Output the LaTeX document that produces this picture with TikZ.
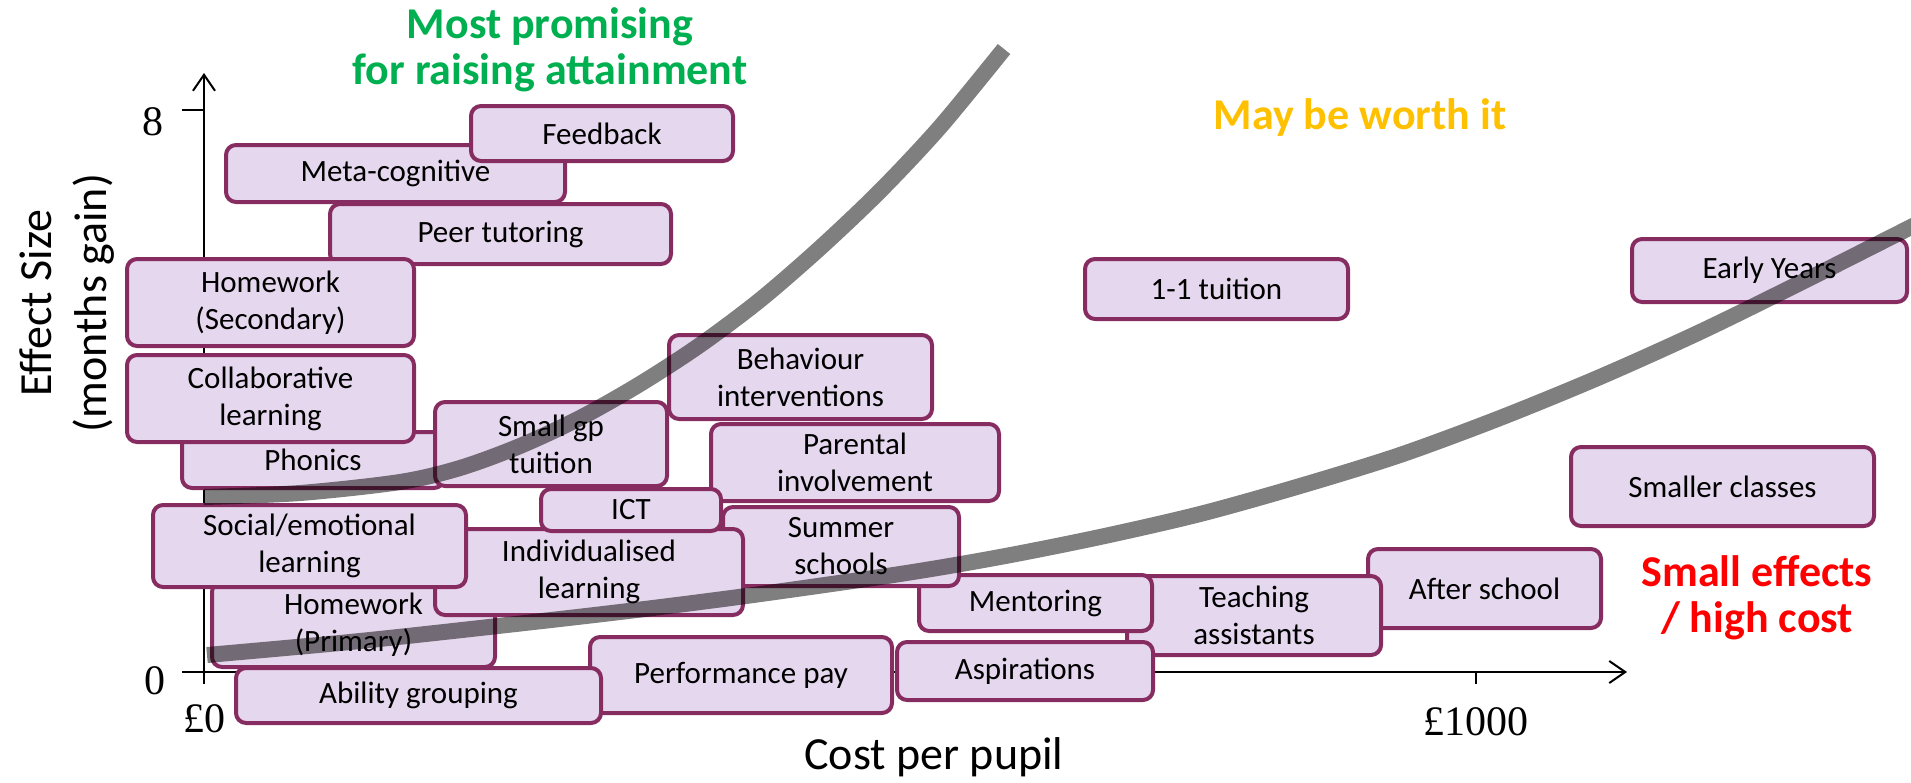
\documentclass[tikz,border=0pt]{standalone}
\usepackage{fontspec}
\setmainfont{Carlito}
\newfontfamily\tickfont{Liberation Serif}
\usetikzlibrary{arrows.meta}
\definecolor{boxfill}{RGB}{229,215,237}
\definecolor{boxline}{RGB}{134,44,96}
\definecolor{goodgreen}{RGB}{0,176,80}
\definecolor{maybeyellow}{RGB}{255,192,0}

\begin{document}
\begin{tikzpicture}[x=1pt, y=-1pt,
					line join=round,
					item node/.style={rectangle,draw=boxline,fill=boxfill,line width=4pt,
						rounded corners=10pt,inner sep=0pt,align=center,
						font=\fontsize{31}{37}\selectfont},
					axis line/.style={line width=2pt,-{Straight Barb[length=16pt,width=22pt]}},
					tick line/.style={line width=2pt},
					trend line/.style={line width=16pt,draw=black,draw opacity=0.5},
					tick label/.style={font=\fontsize{42}{42}\tickfont},
					axis label/.style={font=\fontsize{46}{55}\selectfont,align=center},
					zone label/.style={font=\fontsize{44}{46}\selectfont\bfseries,align=center}]

  \useasboundingbox (0,0) rectangle (1911,782);

  % axes
  \coordinate (ybot)  at (204,684);
  \coordinate (ytop)  at (204,73);
  \coordinate (xleft) at (182,672);
  \coordinate (xend)  at (1627,672);
  \coordinate (yeight)  at (204,110);
  \coordinate (yeightl) at (182,110);
  \coordinate (xthou)  at (1476,672);
  \coordinate (xthoub) at (1476,684);

  \draw[axis line] (ybot) -- (ytop);
  \draw[axis line] (xleft) -- (xend);
  \draw[tick line] (yeightl) -- (yeight);
  \draw[tick line] (xthou) -- (xthoub);

  \node[tick label] (eight) at (153,122) {8};
  \node[tick label] (zero)  at (155,681) {0};
  \node[tick label] (pzero) at (204,719) {£0};
  \node[tick label] (pthou) at (1476,722) {£1000};

  \node[axis label,rotate=90] (ylab) at (67,303) {Effect Size\\(months gain)};
  \node[axis label] (xlab) at (934,757) {Cost per pupil};

  % interventions
  \node[item node,minimum width=339pt,minimum height=57pt] (meta)     at (395.5,173.5) {Meta-cognitive};
  \node[item node,minimum width=262pt,minimum height=55pt] (feedback) at (602,133.5)   {Feedback};
  \node[item node,minimum width=341pt,minimum height=60pt] (peer)     at (500.5,234)   {Peer tutoring};
  \node[item node,minimum width=287pt,minimum height=87pt] (hwsec)    at (270.5,302.5) {Homework\\(Secondary)};
  \node[item node,minimum width=262pt,minimum height=56pt] (phonics)  at (313,460)     {Phonics};
  \node[item node,minimum width=287pt,minimum height=87pt] (collab)   at (270.5,398.5) {Collaborative\\learning};
  \node[item node,minimum width=232pt,minimum height=84pt] (smallgp)  at (551,444)     {Small gp\\tuition};
  \node[item node,minimum width=263pt,minimum height=84pt] (behav)    at (800.5,377)   {Behaviour\\interventions};
  \node[item node,minimum width=288pt,minimum height=77pt] (parent)   at (855,462.5)   {Parental\\involvement};
  \node[item node,minimum width=233pt,minimum height=79pt] (after)    at (1484.5,588.5) {After school};
  \node[item node,minimum width=254pt,minimum height=79pt] (teach)    at (1254,615.5)  {Teaching\\assistants};
  \node[item node,minimum width=233pt,minimum height=56pt] (mentor)   at (1035.5,603)  {Mentoring};
  \node[item node,minimum width=236pt,minimum height=79pt] (summer)   at (841,546.5)   {Summer\\schools};
  \node[item node,minimum width=256pt,minimum height=58pt] (aspire)   at (1025,671)    {Aspirations};
  \node[item node,minimum width=302pt,minimum height=76pt] (perfpay)  at (741,675)     {Performance pay};
  \node[item node,minimum width=365pt,minimum height=55pt] (ability)  at (418.5,695.5) {Ability grouping};
  \node[item node,minimum width=283pt,minimum height=85pt] (hwprim)   at (353.5,624.5) {Homework\\(Primary)};
  \node[item node,minimum width=308pt,minimum height=86pt] (indiv)    at (589,572)     {Individualised\\learning};
  \node[item node,minimum width=180pt,minimum height=42pt] (ict)      at (631,510)     {ICT};
  \node[item node,minimum width=313pt,minimum height=82pt] (social)   at (309.5,546)   {Social/emotional\\learning};
  \node[item node,minimum width=263pt,minimum height=60pt] (onetoone) at (1216.5,289)  {1-1 tuition};
  \node[item node,minimum width=275pt,minimum height=63pt] (early)    at (1769.5,270.5) {Early Years};
  \node[item node,minimum width=303pt,minimum height=79pt] (smaller)  at (1722.5,486.5) {Smaller classes};

  % zones
  \node[zone label,text=goodgreen]   (promising) at (550,50)   {Most promising\\for raising attainment};
  \node[zone label,text=maybeyellow] (maybe)     at (1360,118) {May be worth it};
  \node[zone label,text=red]         (costly)    at (1757,598) {Small effects\\/ high cost};

  % trend lines
  \draw[trend line] plot[smooth,tension=0.5] coordinates {(204,497) (300,493) (400,482) (460,468)
    (520,446) (580,418) (640,384) (700,345) (760,300) (820,248) (880,191) (940,127) (1004,49)};
  \draw[trend line] plot[smooth,tension=0.5] coordinates {(207,655) (350,642) (480,628) (620,612)
    (746,596) (900,574) (1000,557) (1100,537) (1200,514) (1300,486) (1400,455) (1500,418)
    (1600,377) (1700,332) (1800,283) (1911,227) (1935,215)};
\end{tikzpicture}
\end{document}
